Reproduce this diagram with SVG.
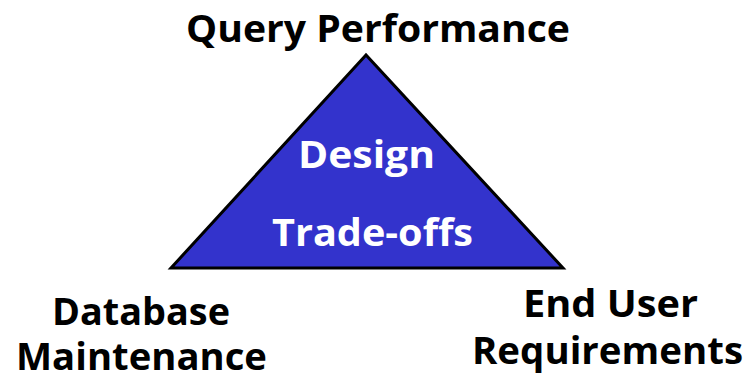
<svg xmlns="http://www.w3.org/2000/svg" width="751" height="376" viewBox="0 0 751 376">
<style>
.t{font-family:"Open Sans","DejaVu Sans",sans-serif;font-weight:bold;font-size:38px;fill:#000}
.w{fill:#fff}
</style>
<rect width="751" height="376" fill="#fff"/>
<g id="triangle">
<polygon points="366,55 171,268 563,268" fill="#3333CC" stroke="#000" stroke-width="3" stroke-linejoin="miter"/>
<text class="t w" x="298" y="168" textLength="137" lengthAdjust="spacingAndGlyphs">Design</text>
<text class="t w" x="272" y="246" textLength="201" lengthAdjust="spacingAndGlyphs">Trade-offs</text>
</g>
<g id="query-performance">
<text class="t" x="186" y="42" textLength="384" lengthAdjust="spacingAndGlyphs">Query Performance</text>
</g>
<g id="database-maintenance">
<text class="t" x="52" y="325" textLength="178" lengthAdjust="spacingAndGlyphs">Database</text>
<text class="t" x="16" y="370" textLength="251" lengthAdjust="spacingAndGlyphs">Maintenance</text>
</g>
<g id="end-user-requirements">
<text class="t" x="523" y="317" textLength="175" lengthAdjust="spacingAndGlyphs">End User</text>
<text class="t" x="472" y="364" textLength="271" lengthAdjust="spacingAndGlyphs">Requirements</text>
</g>
</svg>
